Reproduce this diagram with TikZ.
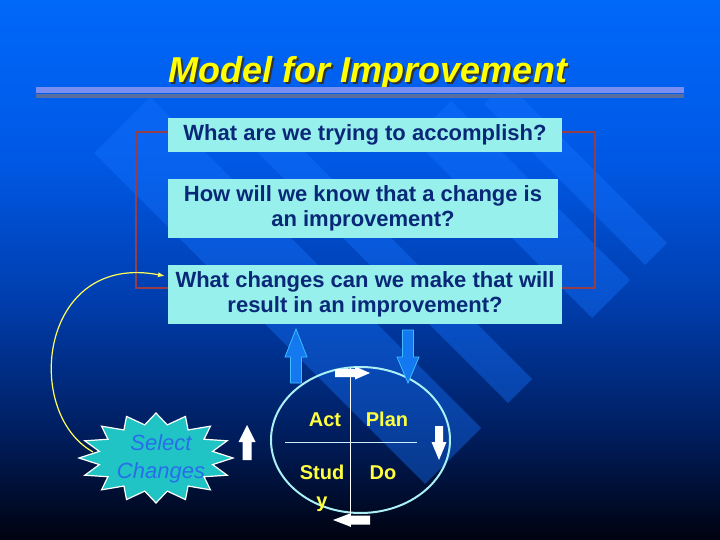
\documentclass[tikz,border=0pt]{standalone}
\usepackage{fontspec}
\setmainfont{Liberation Sans}
\usetikzlibrary{shapes.geometric,arrows.meta}
\definecolor{c0}{RGB}{0,2,15}
\definecolor{c1}{RGB}{0,30,95}
\definecolor{c2}{RGB}{0,62,175}
\definecolor{c3}{RGB}{0,88,228}
\definecolor{c4}{RGB}{0,104,250}
\definecolor{bandc}{RGB}{20,115,255}
\definecolor{boxfill}{RGB}{152,240,236}
\definecolor{boxtext}{RGB}{10,40,120}
\definecolor{bracketc}{RGB}{150,62,72}
\definecolor{titley}{RGB}{255,255,0}
\definecolor{bar1}{RGB}{120,142,240}
\definecolor{bar2}{RGB}{90,110,160}
\definecolor{startea}{RGB}{32,196,196}
\definecolor{seltext}{RGB}{40,110,235}
\definecolor{pdsay}{RGB}{255,255,64}
\definecolor{ringc}{RGB}{170,240,245}
\definecolor{barrowf}{RGB}{20,120,240}
\definecolor{barrowd}{RGB}{60,190,255}
\definecolor{curvey}{RGB}{255,255,90}
\pgfdeclareverticalshading{bgshade}{100bp}{color(0bp)=(c0); color(25bp)=(c0); color(35bp)=(c1); color(47.5bp)=(c2); color(60bp)=(c3); color(75bp)=(c4); color(100bp)=(c4)}
\begin{document}
\begin{tikzpicture}[x=1pt,y=-1pt,
  band/.style={fill=bandc,fill opacity=0.4},
  qbox/.style={fill=boxfill,text=boxtext,font=\bfseries\fontsize{22}{25}\selectfont,align=center,inner sep=0pt},
  pdsatext/.style={text=pdsay,font=\bfseries\fontsize{20}{28}\selectfont,align=center,inner sep=0pt},
  bluearrow/.style={fill=barrowf,draw=barrowd,line width=0.8pt},
  whitearrow/.style={fill=white},
]
\useasboundingbox (0,0) rectangle (720,540);
\shade[shading=bgshade] (0,0) rectangle (720,540);
% background bands
\fill[band] (506,82) -- (667,243) -- (645,265) -- (484,104) -- cycle;
\fill[band] (451,101) -- (630,280) -- (592,318) -- (413,139) -- cycle;
\fill[band] (271,118) -- (532,379) -- (508,403) -- (247,142) -- cycle;
\fill[band] (150,97) -- (481,428) -- (425,484) -- (94,153) -- cycle;
% title
\node[anchor=base,text=black!80,font=\bfseries\itshape\fontsize{36}{40}\selectfont] (titleshadow) at (369.5,84.5) {Model for Improvement};
\node[anchor=base,text=titley,font=\bfseries\itshape\fontsize{36}{40}\selectfont] (title) at (368,83) {Model for Improvement};
\fill[bar1] (36,86.7) rectangle (684,92.7);
\fill[bar2] (36,94.3) rectangle (684,97.7);
% question boxes
\node[qbox,minimum width=394,minimum height=34] (q1) at (365,135) {What are we trying to accomplish?};
\node[qbox,minimum width=390,minimum height=59] (q2) at (363,208.5) {How will we know that a change is\\an improvement?};
\node[qbox,minimum width=394,minimum height=59] (q3) at (365,294.5) {What changes can we make that will\\result in an improvement?};
% bracket
\draw[bracketc,line width=1.6pt] ([yshift=3pt]q1.west) -- ++(-32,0) |- ([yshift=6.5pt]q3.west);
\draw[bracketc,line width=1.6pt] ([yshift=3pt]q1.east) -- ++(33,0) |- ([yshift=6.5pt]q3.east);
% star
\filldraw[fill=startea,draw=white,line width=1.2pt]
  plot[samples at={0,...,31},variable=\k] ({156+(1-0.25*mod(\k,2))*77*cos(\k*11.25)},{458+(1-0.25*mod(\k,2))*45*sin(\k*11.25)}) -- cycle;
\node[text=seltext,font=\itshape\fontsize{22}{28}\selectfont,align=center,inner sep=0pt,anchor=base] (sel) at (161,478) {Select\\Changes};
% yellow curved arrow
\coordinate (ys) at (93,452);
\coordinate (ye) at (165,276);
\draw[curvey,line width=1.2pt,-{Latex[length=7pt,width=5pt]}] (ys) .. controls (22,412) and (40,252) .. (ye);
% PDSA cycle
\node[ellipse,draw=ringc,line width=2pt,minimum width=179,minimum height=146,inner sep=0pt] (pdsa) at (360.5,440) {};
\draw[white,line width=0.8pt] (350,368) -- (350,527);
\draw[white!80!cyan,line width=0.8pt] (285,442) -- (417,442);
\node[pdsatext,anchor=base] (act) at (325,426) {Act};
\node[pdsatext,anchor=base] (plan) at (387,426) {Plan};
\node[pdsatext,anchor=base] (study) at (322,507) {Stud\\y};
\node[pdsatext,anchor=base] (do) at (383,479) {Do};
% blue block arrows
\filldraw[bluearrow] (296,329) -- (307,357) -- (301.5,357) -- (301.5,383) -- (290.5,383) -- (290.5,357) -- (285,357) -- cycle;
\filldraw[bluearrow] (408,383) -- (419,357) -- (413.5,357) -- (413.5,330) -- (402.5,330) -- (402.5,357) -- (397,357) -- cycle;
% white block arrows
\fill[whitearrow] (370,373) -- (355,366.5) -- (355,369) -- (335,369) -- (335,377) -- (355,377) -- (355,379.5) -- cycle;
\fill[whitearrow] (439,460) -- (446.5,442) -- (443,442) -- (443,426) -- (435,426) -- (435,442) -- (431.5,442) -- cycle;
\fill[whitearrow] (333,520) -- (350,513.5) -- (350,515.5) -- (370,515.5) -- (370,524.5) -- (350,524.5) -- (350,526.5) -- cycle;
\fill[whitearrow] (247,425) -- (255.5,442) -- (251.5,442) -- (251.5,460) -- (242.5,460) -- (242.5,442) -- (238.5,442) -- cycle;
\end{tikzpicture}
\end{document}
